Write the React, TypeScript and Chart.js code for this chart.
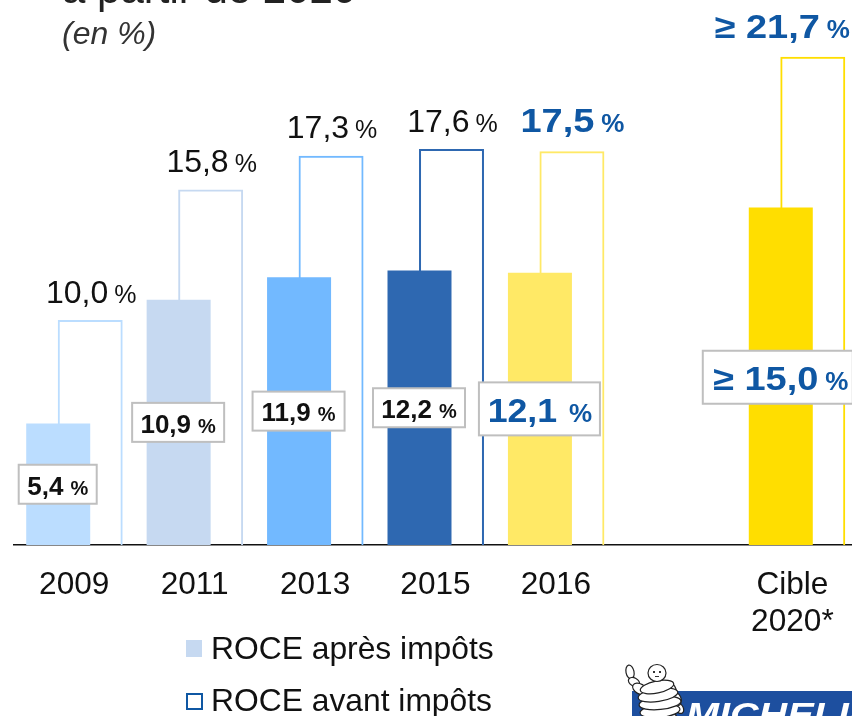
import { useEffect, useRef } from "react";
import { Chart, registerables } from "chart.js";

Chart.register(...registerables);

const categories: (string | string[])[] = ["2009", "2011", "2013", "2015", "2016", "", ["Cible ", "2020* "]];
const roceAfterTax: (number | null)[] = [5.4, 10.9, 11.9, 12.2, 12.1, null, 15.0];
const roceBeforeTax: (number | null)[] = [10.0, 15.8, 17.3, 17.6, 17.5, null, 21.7];
const barColors = ["#BBDDFF", "#C6D9F1", "#72B9FF", "#2E68B1", "#FFE966", "#FFFFFF", "#FFDE00"];
const seriesNames = ["ROCE après impôts", "ROCE avant impôts"];
const titleLine = "à partir de 2020";
const unitLine = "(en %)";

const FONT = '"Liberation Sans", Arial, sans-serif';
const BLUE = "#0F57A3";
const CANVAS_W = 857;
const CANVAS_H = 716;

type Ctx = CanvasRenderingContext2D;

function pctText(v: number) {
  return v.toFixed(1).replace(".", ",");
}

function mixedLabel(
  ctx: Ctx, cx: number, cy: number, num: string,
  numFont: string, pctFont: string, color: string, gap: number, stretch = 1,
) {
  ctx.textBaseline = "alphabetic";
  ctx.textAlign = "left";
  ctx.fillStyle = color;
  ctx.font = numFont;
  const w1 = ctx.measureText(num).width * stretch;
  const size = parseFloat(numFont.match(/([\d.]+)px/)![1]);
  ctx.font = pctFont;
  const w2 = ctx.measureText("%").width;
  const x = cx - (w1 + gap + w2) / 2;
  const base = cy + size * 0.36;
  ctx.save();
  ctx.translate(x, base);
  ctx.scale(stretch, 1);
  ctx.font = numFont;
  ctx.fillText(num, 0, 0);
  ctx.restore();
  ctx.font = pctFont;
  ctx.fillText("%", x + w1 + gap, base);
}

function box(ctx: Ctx, cx: number, cy: number, w: number, h: number) {
  ctx.fillStyle = "#FFFFFF";
  ctx.strokeStyle = "#BFBFBF";
  ctx.lineWidth = 2;
  ctx.fillRect(cx - w / 2, cy - h / 2, w, h);
  ctx.strokeRect(cx - w / 2, cy - h / 2, w, h);
}

function bibendumRoll(ctx: Ctx, x: number, y: number, rx: number, ry: number, rot: number) {
  ctx.beginPath();
  ctx.ellipse(x, y, rx, ry, rot, 0, Math.PI * 2);
  ctx.fillStyle = "#FFFFFF";
  ctx.fill();
  ctx.strokeStyle = "#222222";
  ctx.lineWidth = 1.2;
  ctx.stroke();
}

function drawLogo(ctx: Ctx) {
  ctx.fillStyle = "#1D4F9F";
  ctx.fillRect(632, 691, 225, 25);
  ctx.save();
  ctx.beginPath();
  ctx.rect(632, 691, 225, 25);
  ctx.clip();
  ctx.fillStyle = "#FFFFFF";
  ctx.font = `italic bold 33px ${FONT}`;
  ctx.textAlign = "left";
  ctx.textBaseline = "alphabetic";
  ctx.save();
  ctx.translate(686, 726);
  ctx.scale(1.2, 1);
  ctx.fillText("MICHELIN", 0, 0);
  ctx.restore();
  ctx.restore();
  // Bibendum
  ctx.save();
  ctx.beginPath();
  ctx.rect(620, 660, 70, 56);
  ctx.clip();
  bibendumRoll(ctx, 630, 672, 4, 7, -0.2);
  bibendumRoll(ctx, 634, 682, 6, 4, 0.5);
  bibendumRoll(ctx, 640, 689, 8, 5, 0.5);
  bibendumRoll(ctx, 679, 708, 4, 6, -0.6);
  bibendumRoll(ctx, 676, 699, 5, 7, -0.4);
  bibendumRoll(ctx, 671, 690, 5, 7, -0.3);
  bibendumRoll(ctx, 659, 719, 18, 7, -0.1);
  bibendumRoll(ctx, 660, 711, 20, 6.5, -0.1);
  bibendumRoll(ctx, 660, 703, 21, 6.5, -0.1);
  bibendumRoll(ctx, 658, 695, 20, 6.5, -0.15);
  bibendumRoll(ctx, 657, 687, 17, 6, -0.2);
  bibendumRoll(ctx, 657, 673, 9, 8.5, 0);
  ctx.fillStyle = "#333";
  ctx.fillRect(653, 671, 2, 2);
  ctx.fillRect(659, 671, 2, 2);
  ctx.fillRect(655, 676, 4, 1);
  ctx.restore();
}

const decorations = {
  id: "decorations",
  afterDatasetsDraw(chart: any) {
    const ctx: Ctx = chart.ctx;
    const metaAfter = chart.getDatasetMeta(0);
    const metaBefore = chart.getDatasetMeta(1);
    const y = chart.scales.y;
    ctx.save();

    // Value labels, placed from the scales
    roceBeforeTax.forEach((v, i) => {
      if (v == null) return;
      const highlighted = i >= 4;
      const target = i === 6;
      const x = metaBefore.data[i].x;
      const top = y.getPixelForValue(v);
      const prefix = target ? "≥ " : "";
      if (highlighted) {
        mixedLabel(ctx, x + (target ? -31 : 0) + 0.5, top - 31, prefix + pctText(v),
          `bold 33px ${FONT}`, `bold 26px ${FONT}`, BLUE, 7, 1.15);
      } else {
        mixedLabel(ctx, x + 1, top - 29, pctText(v), `32px ${FONT}`, `25px ${FONT}`, "#111111", 6);
      }
    });

    roceAfterTax.forEach((v, i) => {
      if (v == null) return;
      const highlighted = i >= 4;
      const target = i === 6;
      const cy = (y.getPixelForValue(v) + y.getPixelForValue(0)) / 2 + (target ? 1 : 0);
      const boxCx = metaAfter.data[i].x + (target ? -3 : -0.5);
      const prefix = target ? "≥ " : "";
      if (highlighted) {
        const w = target ? 150 : 121;
        box(ctx, boxCx, cy, w, 53);
        if (target) {
          mixedLabel(ctx, boxCx + 3, cy + 1, prefix + pctText(v), `bold 33px ${FONT}`, `bold 26px ${FONT}`, BLUE, 7, 1.15);
        } else {
          mixedLabel(ctx, boxCx + 0.5, cy + 1, prefix + pctText(v), `bold 34px ${FONT}`, `bold 26px ${FONT}`, BLUE, 12, 1.05);
        }
      } else {
        const w = i === 0 ? 78 : 92;
        box(ctx, boxCx, cy, w, 39);
        mixedLabel(ctx, boxCx, cy + 1, pctText(v), `bold 26px ${FONT}`, `bold 20px ${FONT}`, "#111111", 7);
      }
    });

    // Heading, cut off by the top of the picture as in the source
    ctx.textAlign = "left";
    ctx.textBaseline = "alphabetic";
    ctx.fillStyle = "#222222";
    ctx.font = `42px ${FONT}`;
    ctx.fillText(titleLine, 62, 3);
    ctx.fillStyle = "#333333";
    ctx.font = `italic 32px ${FONT}`;
    ctx.fillText(unitLine, 62, 44);

    // Legend
    ctx.fillStyle = "#C6D9F1";
    ctx.fillRect(186, 640, 16, 17);
    ctx.strokeStyle = BLUE;
    ctx.lineWidth = 2;
    ctx.strokeRect(187, 694, 15, 15);
    ctx.fillStyle = "#111111";
    ctx.font = `31.8px ${FONT}`;
    ctx.fillText(seriesNames[0], 211, 659);
    ctx.fillText(seriesNames[1], 211, 711);

    drawLogo(ctx);
    ctx.restore();
  },
};

export default function App() {
  const ref = useRef<HTMLCanvasElement>(null);
  useEffect(() => {
    if (!ref.current) return;
    const chart = new Chart(ref.current, {
      type: "bar",
      data: {
        labels: categories as any,
        datasets: [
          {
            label: seriesNames[0],
            data: roceAfterTax,
            backgroundColor: barColors,
            borderWidth: 0,
            categoryPercentage: 64 / 120.43,
            barPercentage: 2,
          },
          {
            label: seriesNames[1],
            data: roceBeforeTax,
            backgroundColor: "rgba(255,255,255,0)",
            borderColor: barColors,
            borderWidth: 2,
            borderSkipped: "bottom",
            categoryPercentage: 64 / 120.43,
            barPercentage: 2.03,
          },
        ],
      },
      options: {
        responsive: false,
        animation: false,
        layout: { padding: { left: 14, right: 0, top: 5, bottom: 0 } },
        plugins: {
          legend: { display: false },
          title: { display: false },
          tooltip: { enabled: false },
        },
        scales: {
          x: {
            grid: { display: false, drawTicks: false },
            border: { color: "#111111", width: 1.5 },
            ticks: {
              color: "#111111",
              font: { family: FONT, size: 31.6, lineHeight: 1.16 },
              padding: 22,
              maxRotation: 0,
              autoSkip: false,
            },
            afterFit(scale: any) {
              scale.height = CANVAS_H - 545;
              scale.paddingLeft = 0;
              scale.paddingRight = 0;
            },
          },
          y: { display: false, min: 0, max: 24 },
        },
      },
      plugins: [decorations],
    } as any);
    return () => chart.destroy();
  }, []);

  return (
    <div style={{ position: "fixed", left: 0, top: 0, width: 852, height: 716, overflow: "hidden", background: "#fff" }}>
      <canvas ref={ref} width={CANVAS_W} height={CANVAS_H} style={{ display: "block", width: CANVAS_W, height: CANVAS_H }} />
    </div>
  );
}
